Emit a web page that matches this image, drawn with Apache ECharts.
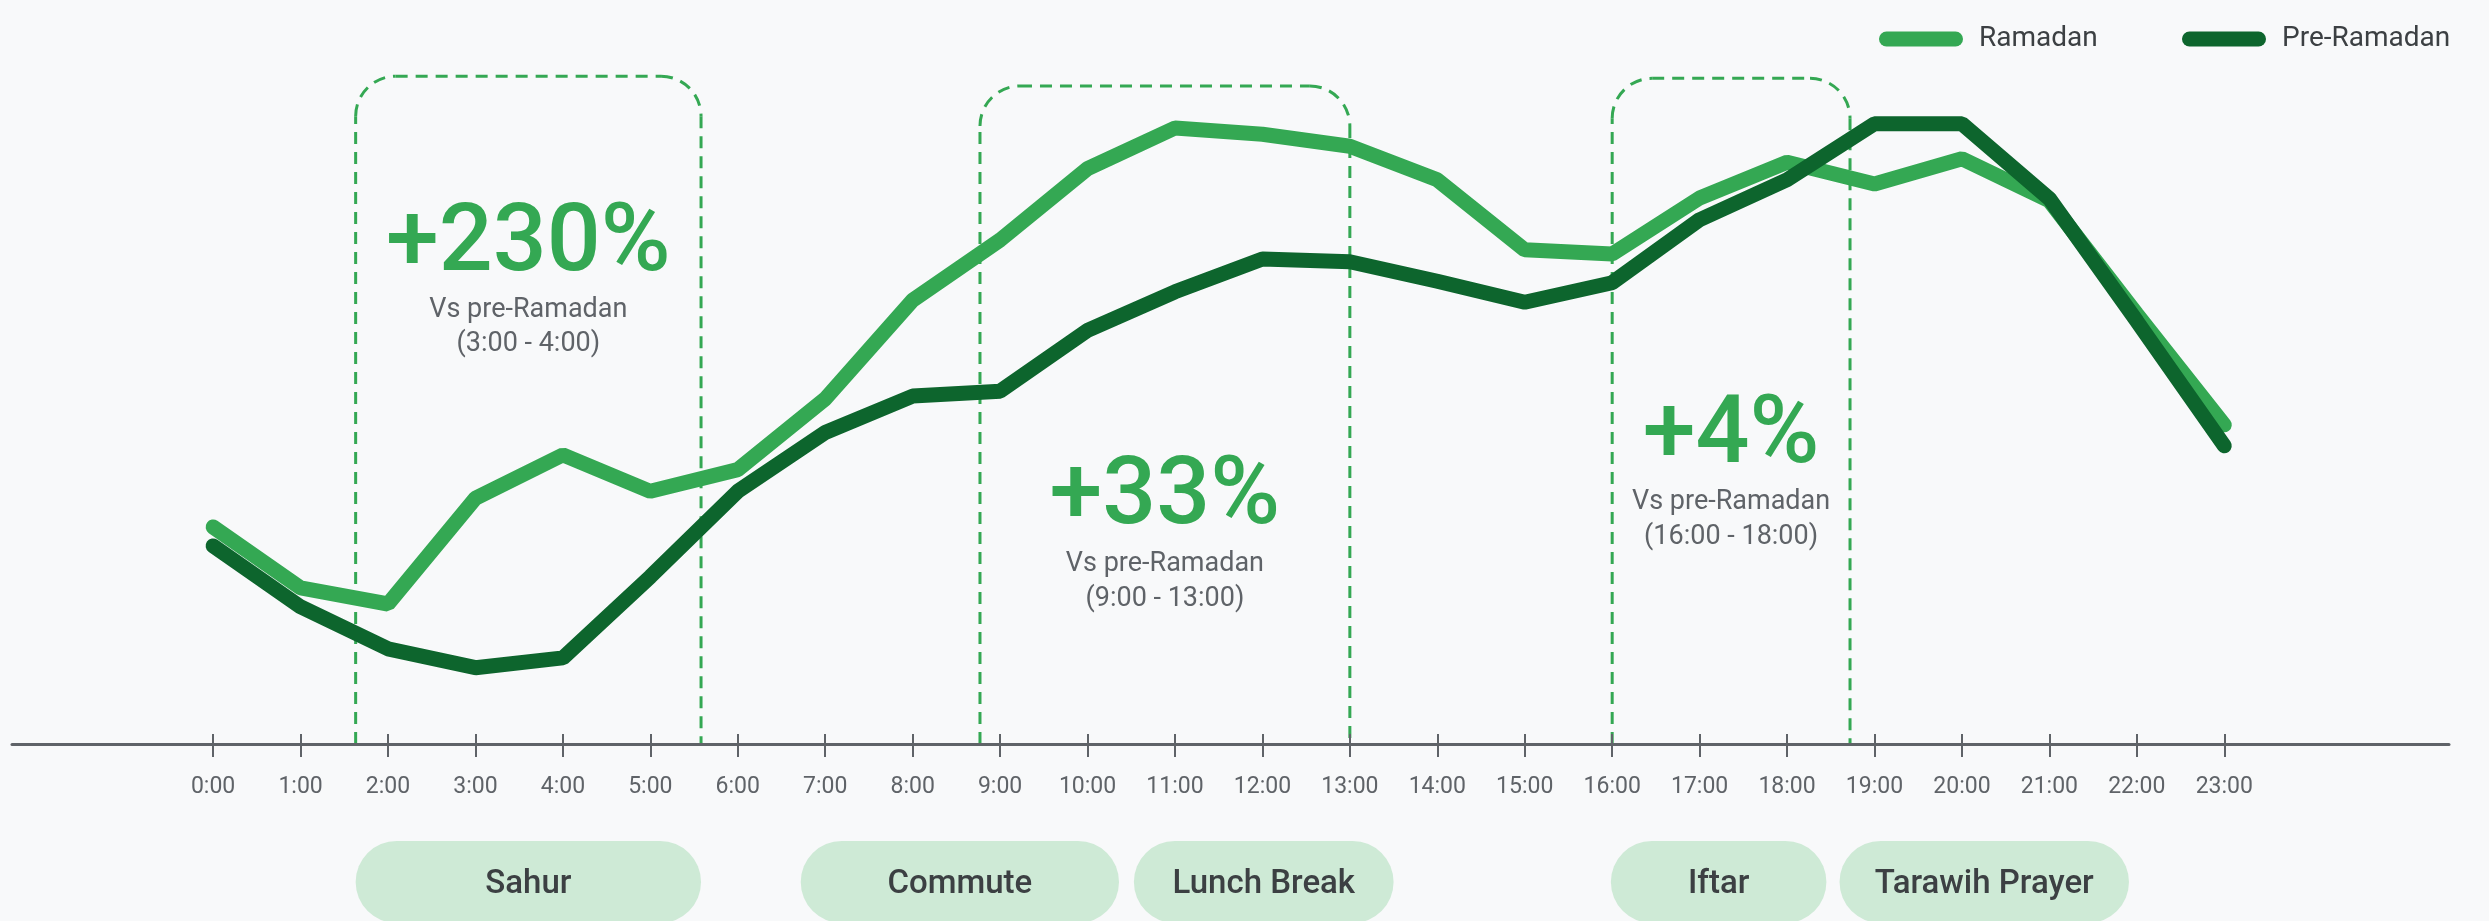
<!DOCTYPE html>
<html>
<head>
<meta charset="utf-8">
<title>Ramadan vs Pre-Ramadan</title>
<style>
  html, body { margin: 0; padding: 0; background: #f8f9fa; }
  #main { width: 2489px; height: 921px; }
</style>
</head>
<body>
<div id="main"></div>
<script src="https://cdn.jsdelivr.net/npm/echarts@6/dist/echarts.min.js"></script>
<script>
var hours = ['0:00', '1:00', '2:00', '3:00', '4:00', '5:00', '6:00', '7:00', '8:00', '9:00', '10:00', '11:00',
             '12:00', '13:00', '14:00', '15:00', '16:00', '17:00', '18:00', '19:00', '20:00', '21:00', '22:00', '23:00'];
var ramadan    = [31.0, 22.3, 20.0, 35.1, 41.3, 36.1, 39.2, 49.3, 63.4, 72.0, 82.2, 88.0,
                  87.1, 85.4, 80.6, 70.6, 70.0, 78.0, 83.1, 80.0, 83.6, 77.6, 61.4, 45.6];
var preRamadan = [28.3, 19.6, 13.6, 10.9, 12.3, 23.9, 36.1, 44.5, 49.7, 50.4, 59.1, 64.6,
                  69.3, 68.9, 66.1, 63.1, 65.9, 74.9, 80.6, 88.6, 88.6, 77.9, 60.4, 42.6];
var moments = ['Sahur', 'Commute', 'Lunch Break', 'Iftar', 'Tarawih Prayer'];
var uplifts = ['+230%', '+33%', '+4%'];
var upliftRanges = ['(3:00 - 4:00)', '(9:00 - 13:00)', '(16:00 - 18:00)'];

var GREEN = '#34a853', DARK = '#0d652d', GREY = '#5f6368', INK = '#3c4043';
var FONT = 'Roboto, "Noto Sans", sans-serif';

// where the highlight boxes / pills sit along the hour axis
var boxes = [
  { from: 1.63, to: 5.58, top: 95.4, textY: [246, 310, 344] },
  { from: 8.77, to: 13.0, top: 94.0, textY: [499, 564, 599] },
  { from: 16.0, to: 18.72, top: 95.1, textY: [438, 502, 537] }
];
var pills = [[1.63, 5.58], [6.72, 10.36], [10.53, 13.5], [15.985, 18.45], [18.6, 21.91]];

var tickIdx = hours.map(function (h, i) { return i; });
var pillIcon = 'path://M7.5,0 H76.5 A7.5,7.5 0 0 1 76.5,15 H7.5 A7.5,7.5 0 0 1 7.5,0 Z';

var chart = echarts.init(document.getElementById('main'));

function legendAt(name, left) {
  return {
    data: [name], left: left, top: 20, icon: pillIcon,
    itemWidth: 84, itemHeight: 15,
    textStyle: { fontSize: 28, color: INK, fontFamily: FONT, padding: [0, 0, 0, 11] }
  };
}

var option = {
  backgroundColor: '#f8f9fa',
  animation: false,
  legend: [legendAt('Ramadan', 1874), legendAt('Pre-Ramadan', 2177)],
  grid: { left: 12, right: 40, top: 44, bottom: 177 },
  xAxis: [{
    type: 'value', min: -2.3, max: 25.57,
    axisLine: { lineStyle: { color: GREY, width: 3 } },
    axisTick: { customValues: tickIdx, length: 13, lineStyle: { color: GREY, width: 2 } },
    axisLabel: {
      customValues: tickIdx, margin: 32, fontSize: 23, color: GREY, fontFamily: FONT,
      formatter: function (v) { return hours[v]; }
    },
    splitLine: { show: false }
  }, {
    type: 'value', min: -2.3, max: 25.57, position: 'bottom',
    axisLine: { show: false },
    axisTick: { customValues: tickIdx, inside: true, length: 10, lineStyle: { color: GREY, width: 2 } },
    axisLabel: { show: false },
    splitLine: { show: false }
  }],
  yAxis: { type: 'value', min: 0, max: 100, show: false },
  series: [{
    name: 'Ramadan', type: 'line', symbol: 'none', silent: true,
    data: ramadan.map(function (v, i) { return [i, v]; }),
    itemStyle: { color: GREEN },
    lineStyle: { color: GREEN, width: 15, cap: 'round' }
  }, {
    name: 'Pre-Ramadan', type: 'line', symbol: 'none', silent: true,
    data: preRamadan.map(function (v, i) { return [i, v]; }),
    itemStyle: { color: DARK },
    lineStyle: { color: DARK, width: 15, cap: 'round' }
  }]
};
chart.setOption(option);

function px(h, v) { return chart.convertToPixel({ seriesIndex: 0 }, [h, v]); }

var dashStyle = { fill: null, stroke: GREEN, lineWidth: 3, lineDash: [12, 8] };
var g = [];
boxes.forEach(function (b, i) {
  var L = px(b.from, 0)[0], R = px(b.to, 0)[0], B = px(b.from, 0)[1], T = px(b.from, b.top)[1], r = 40;
  g.push({ type: 'polyline', silent: true, shape: { points: [[L, B], [L, T + r]] }, style: dashStyle });
  g.push({ type: 'arc', silent: true, shape: { cx: L + r, cy: T + r, r: r, startAngle: Math.PI, endAngle: Math.PI * 1.5, clockwise: true }, style: dashStyle });
  g.push({ type: 'polyline', silent: true, shape: { points: [[L + r, T], [R - r, T]] }, style: dashStyle });
  g.push({ type: 'arc', silent: true, shape: { cx: R - r, cy: T + r, r: r, startAngle: Math.PI * 1.5, endAngle: Math.PI * 2, clockwise: true }, style: dashStyle });
  g.push({ type: 'polyline', silent: true, shape: { points: [[R, T + r], [R, B]] }, style: dashStyle });
  var cx = (L + R) / 2;
  g.push({ type: 'text', silent: true, x: cx, y: b.textY[0],
    style: { text: uplifts[i], fill: GREEN, fontSize: 95, fontWeight: 500, fontFamily: FONT, align: 'center', verticalAlign: 'middle' } });
  g.push({ type: 'text', silent: true, x: cx, y: b.textY[1],
    style: { text: 'Vs pre-Ramadan', fill: GREY, fontSize: 27, fontFamily: FONT, align: 'center', verticalAlign: 'middle' } });
  g.push({ type: 'text', silent: true, x: cx, y: b.textY[2],
    style: { text: upliftRanges[i], fill: GREY, fontSize: 27, fontFamily: FONT, align: 'center', verticalAlign: 'middle' } });
});
pills.forEach(function (p, i) {
  var L = px(p[0], 0)[0], R = px(p[1], 0)[0];
  g.push({ type: 'rect', silent: true, shape: { x: L, y: 841, width: R - L, height: 82, r: 41 },
    style: { fill: '#ceead6' } });
  g.push({ type: 'text', silent: true, x: (L + R) / 2, y: 885,
    style: { text: moments[i], fill: INK, fontSize: 33, fontWeight: 500, fontFamily: FONT, align: 'center', verticalAlign: 'middle' } });
});
chart.setOption({ graphic: g });
</script>
</body>
</html>
